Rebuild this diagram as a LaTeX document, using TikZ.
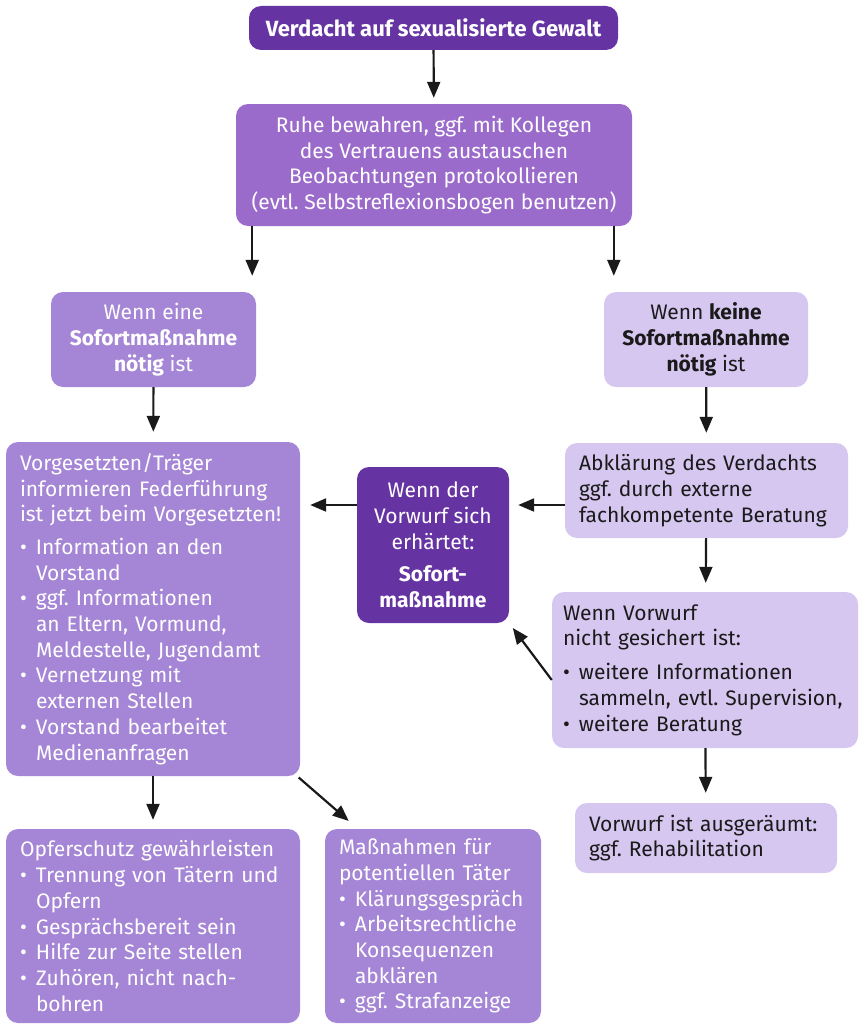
\documentclass[tikz,border=0pt]{standalone}
\usepackage{fontspec}
\setmainfont{Fira Sans}
\frenchspacing
\usetikzlibrary{shapes}
\usetikzlibrary{arrows.meta}

\definecolor{dunkel}{HTML}{6633A3}
\definecolor{mittel}{HTML}{9B6BCB}
\definecolor{violett}{HTML}{A585D5}
\definecolor{hell}{HTML}{D6C7F0}
\definecolor{schrift}{HTML}{1A1A1A}

\newcommand{\pkt}{\makebox[16pt][l]{\textbullet}}
\newcommand{\einr}{\hspace*{16pt}}

\begin{document}
\begin{tikzpicture}[x=1pt,y=-1pt]
				\tikzstyle{kasten}=[rectangle,rounded corners=12pt,inner xsep=14pt,inner ysep=0pt,font=\fontsize{21}{25.7}\selectfont]
				\tikzstyle{dunkelbox}=[kasten,fill=dunkel,text=white,align=center]
				\tikzstyle{mittelbox}=[kasten,fill=mittel,text=white,align=center]
				\tikzstyle{violettbox}=[kasten,fill=violett,text=white]
				\tikzstyle{hellbox}=[kasten,fill=hell,text=schrift]
				\tikzstyle{pfeil}=[-{Triangle[length=16pt,width=13pt]},line width=2.2pt,draw=schrift]
				
				\useasboundingbox (0,0) rectangle (859,1025);
				
				\node[dunkelbox,minimum width=369pt,minimum height=44pt,font=\fontsize{22}{26}\selectfont\bfseries] (verdacht) at (433.5,28) {Verdacht auf sexualisierte Gewalt};
				\node[mittelbox,minimum width=396pt,minimum height=122pt] (ruhe) at (434,165) {Ruhe bewahren, ggf. mit Kollegen\\des Vertrauens austauschen\\Beobachtungen protokollieren\\(evtl. Selbstreflexionsbogen benutzen)};
				\node[violettbox,align=center,minimum width=205pt,minimum height=95pt] (eine) at (153.5,339.5) {Wenn eine\\\textbf{Sofortmaßnahme}\\\textbf{nötig} ist};
				\node[hellbox,align=center,minimum width=204pt,minimum height=95pt] (keine) at (706,339.5) {Wenn \textbf{keine}\\\textbf{Sofortmaßnahme}\\\textbf{nötig} ist};
				\node[violettbox,align=left,text width=266pt,minimum height=334pt] (traeger) at (153,609) {Vorgesetzten/Träger\\informieren Federführung\\ist jetzt beim Vorgesetzten!\\[7pt]
					\pkt Information an den\\\einr Vorstand\\
					\pkt ggf. Informationen\\\einr an Eltern, Vormund,\\\einr Meldestelle, Jugendamt\\
					\pkt Vernetzung mit\\\einr externen Stellen\\
					\pkt Vorstand bearbeitet\\\einr Medienanfragen};
				\node[hellbox,align=left,text width=255pt,minimum height=95pt] (abklaerung) at (706.5,490.5) {Abklärung des Verdachts\\ggf. durch externe\\fachkompetente Beratung};
				\node[dunkelbox,minimum width=152pt,minimum height=156pt] (sofort) at (433,545) {Wenn der\\Vorwurf sich\\erhärtet:\\[7pt]\textbf{Sofort-}\\\textbf{maßnahme}};
				\node[hellbox,align=left,inner xsep=11pt,text width=284pt,minimum height=156pt] (vorwurf) at (705,670) {Wenn Vorwurf\\nicht gesichert ist:\\[8pt]
					\pkt weitere Informationen\\\einr\mbox{sammeln, evtl. Supervision,}\\
					\pkt weitere Beratung};
				\node[hellbox,align=left,text width=234pt,minimum height=70pt] (ausgeraeumt) at (706,838) {Vorwurf ist ausgeräumt:\\ggf. Rehabilitation};
				\node[violettbox,align=left,text width=266pt,minimum height=194pt] (opfer) at (153,926) {Opferschutz gewährleisten\\
					\pkt Trennung von Tätern und\\\einr Opfern\\
					\pkt Gesprächsbereit sein\\
					\pkt Hilfe zur Seite stellen\\
					\pkt Zuhören, nicht nach-\\\einr bohren};
				\node[violettbox,align=left,text width=188pt,minimum height=194pt] (taeter) at (433,926) {Maßnahmen für\\potentiellen Täter\\
					\pkt Klärungsgespräch\\
					\pkt Arbeitsrechtliche\\\einr Konsequenzen\\\einr abklären\\
					\pkt ggf. Strafanzeige};
				
				\draw[pfeil,shorten >=6pt] (verdacht) -- (ruhe);
				\draw[pfeil,shorten >=16pt] ([xshift=-4pt]eine.north east |- ruhe.south) -- ([xshift=-4pt]eine.north east);
				\draw[pfeil,shorten >=16pt] ([xshift=10pt]keine.north west |- ruhe.south) -- ([xshift=10pt]keine.north west);
				\draw[pfeil,shorten >=10pt] (eine) -- (traeger);
				\draw[pfeil,shorten >=10pt] (keine) -- (abklaerung);
				\draw[pfeil,shorten >=9pt] ([yshift=-14.5pt]abklaerung.west) -- ([yshift=-14.5pt]abklaerung.west -| sofort.east);
				\draw[pfeil,shorten >=10pt] ([yshift=-14.5pt]abklaerung.west -| sofort.west) -- ([yshift=-14.5pt]abklaerung.west -| traeger.east);
				\draw[pfeil,shorten >=9pt] (abklaerung) -- (vorwurf);
				\draw[pfeil,shorten >=6pt] ([yshift=-10pt]vorwurf.west) -- (sofort.south east);
				\draw[pfeil,shorten >=10pt] (vorwurf) -- (ausgeraeumt);
				\draw[pfeil,shorten >=9pt] (traeger) -- (opfer);
				\draw[pfeil,shorten <=2pt,shorten >=12pt] ([xshift=-3pt]traeger.south east) -- ([xshift=33pt]taeter.north west);
\end{tikzpicture}
\end{document}
